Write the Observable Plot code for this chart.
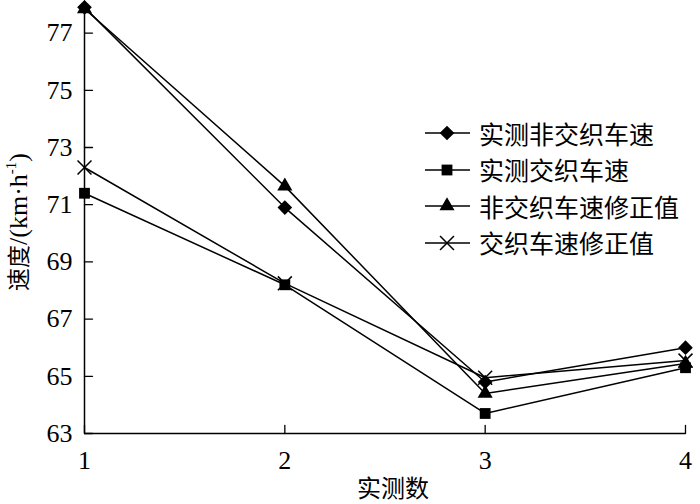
<!DOCTYPE html>
<html><head><meta charset="utf-8">
<script src="https://cdn.jsdelivr.net/npm/d3@7"></script>
<script src="https://cdn.jsdelivr.net/npm/@observablehq/plot@0.6"></script>
<style>
body{margin:0;background:#fff}
#wrap{position:relative;width:700px;height:504px;overflow:hidden;font-family:"Liberation Serif","Noto Sans CJK SC",serif;color:#000}
.ylab{position:absolute;left:19px;top:222px;transform:translate(-50%,-50%) rotate(-90deg);white-space:nowrap;font-size:26px;line-height:1}
.ylab sup{font-size:15px;vertical-align:11px;line-height:0}
.xlab{position:absolute;left:393px;top:487px;transform:translate(-50%,-50%);font-family:"Noto Sans CJK SC",sans-serif;font-size:24px;white-space:nowrap;line-height:1}
.legend{position:absolute;left:424px;top:115px;font-family:"Noto Sans CJK SC",sans-serif;font-size:25px;line-height:1}
.legend .row{display:flex;align-items:center;height:36.5px}
.legend svg{margin-right:9px;flex:none}
</style></head><body><div id="wrap"></div>
<script>
const xTicks = [1, 2, 3, 4];
const yTicks = [63, 65, 67, 69, 71, 73, 75, 77];
const seriesNames = ["实测非交织车速", "实测交织车速", "非交织车速修正值", "交织车速修正值"];
const seriesSymbols = ["diamond2", "square", "triangle", "times"];
const seriesRadius = [6.6, 6.1, 5.6, 6.4];
const measuredNonWeaving = [77.9, 70.9, 64.8, 66.0];
const measuredWeaving = [71.4, 68.2, 63.7, 65.3];
const correctedNonWeaving = [77.85, 71.65, 64.4, 65.45];
const correctedWeaving = [72.3, 68.25, 64.95, 65.55];
const seriesValues = [measuredNonWeaving, measuredWeaving, correctedNonWeaving, correctedWeaving];

const rows = [];
seriesValues.forEach((vals, i) => vals.forEach((v, j) => rows.push({x: xTicks[j], y: v, series: seriesNames[i], k: i})));

const tickShape = {draw(ctx, l) { ctx.moveTo(0, 0); ctx.lineTo(0, -l); }};

const marks = [
  Plot.ruleX([1], {stroke: "black", strokeWidth: 1.5}),
  Plot.ruleY([63], {stroke: "black", strokeWidth: 1.5}),
  Plot.vector(yTicks, {x: 1, y: d => d, length: 8, rotate: 90, anchor: "start", shape: tickShape, stroke: "black", strokeWidth: 1.3}),
  Plot.vector(xTicks, {x: d => d, y: 63, length: 8, rotate: 0, anchor: "start", shape: tickShape, stroke: "black", strokeWidth: 1.3}),
  Plot.line(rows, {x: "x", y: "y", z: "series", stroke: "black", strokeWidth: 1.5})
];
seriesNames.forEach((name, i) => {
  const d = rows.filter(r => r.k === i);
  const isStroke = seriesSymbols[i] === "times";
  marks.push(Plot.dot(d, {x: "x", y: "y", symbol: () => seriesSymbols[i], r: seriesRadius[i],
    fill: isStroke ? "none" : "black", stroke: isStroke ? "black" : "none", strokeWidth: 1.5}));
});

const chart = Plot.plot({
  width: 700, height: 504,
  marginLeft: 84, marginRight: 15, marginTop: 4, marginBottom: 71,
  style: {fontFamily: "Liberation Serif, serif", fontSize: "26px", background: "white", color: "black", overflow: "visible"},
  x: {domain: [1, 4], ticks: xTicks, tickSize: 0, tickPadding: 17, label: null, tickFormat: d => String(d)},
  y: {domain: [63, 78], ticks: yTicks, tickSize: 0, tickPadding: 12, label: null, tickFormat: d => String(d)},
  symbol: {domain: seriesSymbols, range: seriesSymbols},
  marks
});
const wrap = document.getElementById("wrap");
wrap.appendChild(chart);

const ylab = document.createElement("div");
ylab.className = "ylab";
ylab.innerHTML = '<span style="font-family:\'Noto Sans CJK SC\',sans-serif;font-size:23px">速度</span>/(km·h<sup>-1</sup>)';
wrap.appendChild(ylab);

const xlab = document.createElement("div");
xlab.className = "xlab";
xlab.textContent = "实测数";
wrap.appendChild(xlab);

const legend = document.createElement("div");
legend.className = "legend";
seriesNames.forEach((name, i) => {
  const row = document.createElement("div");
  row.className = "row";
  const svg = d3.create("svg").attr("width", 46).attr("height", 20);
  svg.append("line").attr("x1", 1).attr("x2", 46).attr("y1", 10).attr("y2", 10).attr("stroke", "black").attr("stroke-width", 1.5);
  const symMap = {diamond2: d3.symbolDiamond2, square: d3.symbolSquare, triangle: d3.symbolTriangle, times: d3.symbolTimes};
  const size = Math.PI * seriesRadius[i] * seriesRadius[i];
  const isStroke = seriesSymbols[i] === "times";
  svg.append("path").attr("transform", "translate(23,10)").attr("d", d3.symbol(symMap[seriesSymbols[i]], size)())
    .attr("fill", isStroke ? "none" : "black").attr("stroke", isStroke ? "black" : "none").attr("stroke-width", 1.5);
  row.appendChild(svg.node());
  const t = document.createElement("span");
  t.textContent = name;
  row.appendChild(t);
  legend.appendChild(row);
});
wrap.appendChild(legend);
</script></body></html>
